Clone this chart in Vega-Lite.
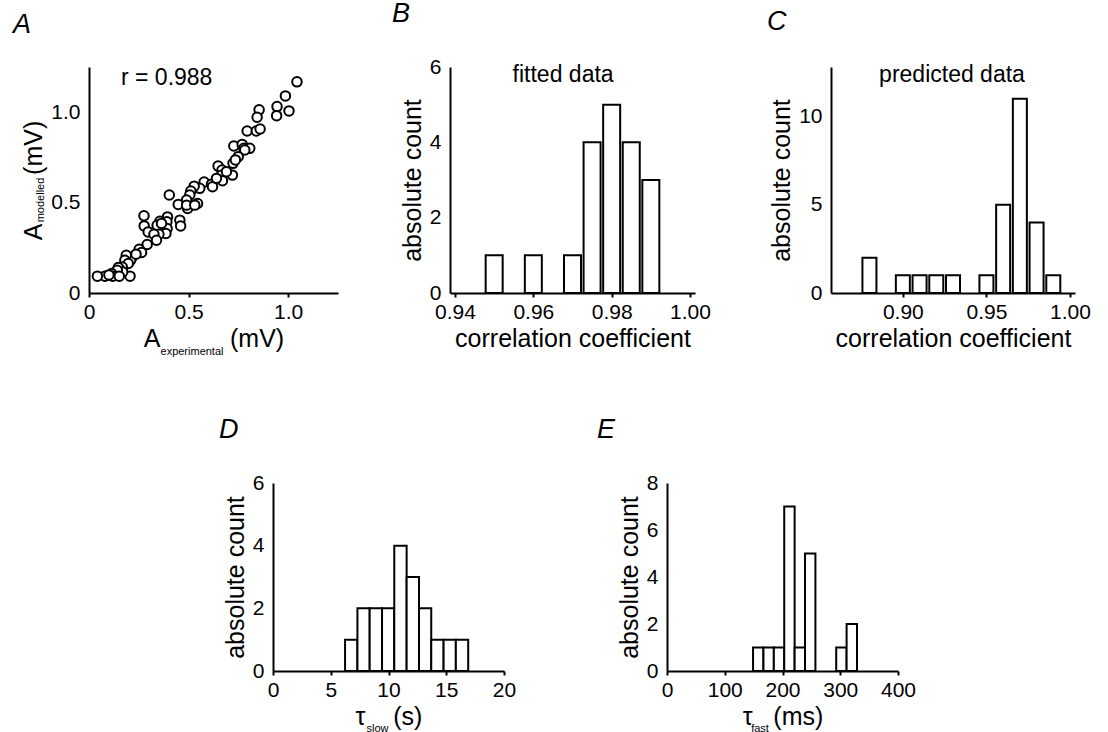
{
  "$schema": "https://vega.github.io/schema/vega-lite/v6.json",
  "background": "white",
  "padding": {"left": 13, "top": 0, "right": 0, "bottom": 0},
  "config": {
    "view": {"stroke": null},
    "font": "Liberation Sans",
    "axis": {"domainColor": "black", "domainWidth": 2, "tickColor": "black", "tickWidth": 2, "tickSize": 4, "labelFontSize": 21, "labelColor": "black", "titleFontSize": 25, "titleFontWeight": "normal", "titleColor": "black", "grid": false, "labelFont": "Liberation Sans", "titleFont": "Liberation Sans", "labelPadding": 4, "titlePadding": 4, "labelFlush": false},
    "axisY": {"ticks": false, "labelPadding": 9},
    "title": {"fontSize": 27, "fontStyle": "italic", "fontWeight": "normal", "anchor": "start", "frame": "group", "color": "black", "font": "Liberation Sans", "offset": 28}
  },
  "vconcat": [
    {
      "hconcat": [
        {
          "hconcat": [
            {
              "width": 249, "height": 226,
              "title": {"text": "A", "dx": -76},
              "layer": [
                {
                  "data": {"values": [
                    {"exp":1.044,"mod":1.168},{"exp":0.986,"mod":1.090},{"exp":0.944,"mod":1.031},{"exp":0.942,"mod":0.981},{"exp":1.004,"mod":1.007},
                    {"exp":0.854,"mod":1.013},{"exp":0.844,"mod":0.972},{"exp":0.794,"mod":0.896},{"exp":0.840,"mod":0.896},{"exp":0.859,"mod":0.907},
                    {"exp":0.727,"mod":0.813},{"exp":0.769,"mod":0.822},{"exp":0.777,"mod":0.800},{"exp":0.807,"mod":0.800},{"exp":0.782,"mod":0.791},
                    {"exp":0.749,"mod":0.754},{"exp":0.723,"mod":0.717},{"exp":0.648,"mod":0.702},{"exp":0.668,"mod":0.680},{"exp":0.665,"mod":0.652},
                    {"exp":0.720,"mod":0.652},{"exp":0.670,"mod":0.621},{"exp":0.578,"mod":0.614},{"exp":0.615,"mod":0.602},{"exp":0.620,"mod":0.588},
                    {"exp":0.556,"mod":0.579},{"exp":0.528,"mod":0.591},{"exp":0.511,"mod":0.564},{"exp":0.506,"mod":0.542},{"exp":0.490,"mod":0.514},
                    {"exp":0.448,"mod":0.490},{"exp":0.403,"mod":0.542},{"exp":0.495,"mod":0.468},{"exp":0.545,"mod":0.495},{"exp":0.490,"mod":0.486},
                    {"exp":0.456,"mod":0.403},{"exp":0.460,"mod":0.371},{"exp":0.394,"mod":0.421},{"exp":0.391,"mod":0.394},{"exp":0.356,"mod":0.397},
                    {"exp":0.342,"mod":0.375},{"exp":0.392,"mod":0.357},{"exp":0.386,"mod":0.329},{"exp":0.351,"mod":0.325},{"exp":0.276,"mod":0.427},
                    {"exp":0.277,"mod":0.371},{"exp":0.297,"mod":0.338},{"exp":0.326,"mod":0.325},{"exp":0.339,"mod":0.292},{"exp":0.292,"mod":0.268},
                    {"exp":0.252,"mod":0.242},{"exp":0.264,"mod":0.224},{"exp":0.214,"mod":0.196},{"exp":0.209,"mod":0.181},{"exp":0.187,"mod":0.209},
                    {"exp":0.180,"mod":0.181},{"exp":0.197,"mod":0.163},{"exp":0.167,"mod":0.144},{"exp":0.155,"mod":0.130},{"exp":0.147,"mod":0.141},
                    {"exp":0.139,"mod":0.116},{"exp":0.130,"mod":0.108},{"exp":0.122,"mod":0.098},{"exp":0.080,"mod":0.093},{"exp":0.042,"mod":0.093},
                    {"exp":0.206,"mod":0.093},{"exp":0.169,"mod":0.116},{"exp":0.142,"mod":0.126},{"exp":0.114,"mod":0.108},{"exp":0.119,"mod":0.093},
                    {"exp":0.152,"mod":0.093},{"exp":0.236,"mod":0.215},{"exp":0.364,"mod":0.385},{"exp":0.640,"mod":0.634},{"exp":0.690,"mod":0.671},
                    {"exp":0.735,"mod":0.736},{"exp":0.531,"mod":0.486},{"exp":0.100,"mod":0.100}
                  ]},
                  "mark": {"type": "point", "shape": "circle", "filled": true, "fill": "white", "stroke": "black", "strokeWidth": 2, "size": 90, "opacity": 1},
                  "encoding": {
                    "x": {"field": "exp", "type": "quantitative", "scale": {"domain": [0, 1.25], "nice": false, "zero": false},
                          "axis": {"values": [0, 0.5, 1], "labelExpr": "datum.value == 0 ? '0' : format(datum.value, '.1f')", "title": "A\u00a0\u00a0\u00a0\u00a0\u00a0\u00a0\u00a0\u00a0\u00a0\u00a0(mV)"}},
                    "y": {"field": "mod", "type": "quantitative", "scale": {"domain": [0, 1.25], "nice": false, "zero": false},
                          "axis": {"values": [0, 0.5, 1], "labelExpr": "datum.value == 0 ? '0' : format(datum.value, '.1f')", "title": "A\u00a0\u00a0\u00a0\u00a0\u00a0\u00a0\u00a0(mV)"}}
                  }
                },
                {
                  "data": {"values": [{}]},
                  "mark": {"type": "text", "fontSize": 23, "align": "center", "baseline": "middle", "color": "black"},
                  "encoding": {"x": {"datum": 0.39}, "y": {"datum": 1.19}, "text": {"value": "r = 0.988"}}
                },
                {
                  "data": {"values": [{}]},
                  "mark": {"type": "text", "fontSize": 11, "align": "left", "baseline": "alphabetic", "color": "black"},
                  "encoding": {"x": {"datum": 0.359}, "y": {"datum": -0.344}, "text": {"value": "experimental"}}
                },
                {
                  "data": {"values": [{}]},
                  "mark": {"type": "text", "fontSize": 11, "align": "left", "baseline": "alphabetic", "angle": 270, "color": "black"},
                  "encoding": {"x": {"datum": -0.225}, "y": {"datum": 0.391}, "text": {"value": "modelled"}}
                }
              ]
            },
            {
              "width": 245, "height": 226,
              "title": {"text": "B", "dx": -58},
              "layer": [
                {
                  "data": {"values": [
                    {"r": 0.95, "count": 1}, {"r": 0.96, "count": 1}, {"r": 0.97, "count": 1}, {"r": 0.975, "count": 4},
                    {"r": 0.98, "count": 5}, {"r": 0.985, "count": 4}, {"r": 0.99, "count": 3}
                  ]},
                  "mark": {"type": "bar", "width": 17, "fill": "white", "stroke": "black", "strokeWidth": 2, "orient": "vertical"},
                  "encoding": {
                    "x": {"field": "r", "type": "quantitative", "scale": {"domain": [0.94, 1.0], "nice": false, "zero": false},
                          "axis": {"values": [0.94, 0.96, 0.98, 1.0], "format": ".2f", "title": "correlation coefficient"}},
                    "y": {"field": "count", "type": "quantitative", "stack": null, "scale": {"domain": [0, 6], "nice": false},
                          "axis": {"values": [0, 2, 4, 6], "title": "absolute count"}}
                  }
                },
                {
                  "data": {"values": [{}]},
                  "mark": {"type": "text", "fontSize": 23, "align": "center", "baseline": "middle", "color": "black"},
                  "encoding": {"x": {"datum": 0.9676}, "y": {"datum": 5.78}, "text": {"value": "fitted data"}}
                }
              ]
            }
          ],
          "spacing": 54
        },
        {
          "width": 244, "height": 226,
          "title": {"text": "C", "dx": -64},
          "layer": [
            {
              "data": {"values": [
                {"r": 0.88, "count": 2}, {"r": 0.90, "count": 1}, {"r": 0.91, "count": 1}, {"r": 0.92, "count": 1}, {"r": 0.93, "count": 1},
                {"r": 0.95, "count": 1}, {"r": 0.96, "count": 5}, {"r": 0.97, "count": 11}, {"r": 0.98, "count": 4}, {"r": 0.99, "count": 1}
              ]},
              "mark": {"type": "bar", "width": 14, "fill": "white", "stroke": "black", "strokeWidth": 2, "orient": "vertical"},
              "encoding": {
                "x": {"field": "r", "type": "quantitative", "scale": {"domain": [0.86, 1.0], "nice": false, "zero": false},
                      "axis": {"values": [0.9, 0.95, 1.0], "format": ".2f", "title": "correlation coefficient"}},
                "y": {"field": "count", "type": "quantitative", "stack": null, "scale": {"domain": [0, 12.8], "nice": false},
                      "axis": {"values": [0, 5, 10], "title": "absolute count"}}
              }
            },
            {
              "data": {"values": [{}]},
              "mark": {"type": "text", "fontSize": 23, "align": "center", "baseline": "middle", "color": "black"},
              "encoding": {"x": {"datum": 0.9294}, "y": {"datum": 12.35}, "text": {"value": "predicted data"}}
            }
          ]
        }
      ],
      "spacing": 56
    },
    {
      "hconcat": [
        {
          "width": 130, "height": 10,
          "data": {"values": [{}]},
          "mark": {"type": "point", "opacity": 0},
          "encoding": {}
        },
        {
          "hconcat": [
            {
              "width": 231, "height": 188,
              "title": {"text": "D", "dx": -54},
              "layer": [
                {
                  "data": {"values": [
                    {"start": 6.24, "end": 7.31, "count": 1}, {"start": 7.31, "end": 8.37, "count": 2}, {"start": 8.37, "end": 9.44, "count": 2},
                    {"start": 9.44, "end": 10.5, "count": 2}, {"start": 10.5, "end": 11.57, "count": 4}, {"start": 11.57, "end": 12.64, "count": 3},
                    {"start": 12.64, "end": 13.7, "count": 2}, {"start": 13.7, "end": 14.77, "count": 1}, {"start": 14.77, "end": 15.83, "count": 1},
                    {"start": 15.83, "end": 16.9, "count": 1}
                  ]},
                  "mark": {"type": "rect", "fill": "white", "stroke": "black", "strokeWidth": 2},
                  "encoding": {
                    "x": {"field": "start", "type": "quantitative", "scale": {"domain": [0, 20], "nice": false},
                          "axis": {"values": [0, 5, 10, 15, 20], "title": "τ\u00a0\u00a0\u00a0\u00a0(s)"}},
                    "x2": {"field": "end"},
                    "y": {"field": "count", "type": "quantitative", "stack": null, "scale": {"domain": [0, 6], "nice": false},
                          "axis": {"values": [0, 2, 4, 6], "title": "absolute count"}},
                    "y2": {"datum": 0}
                  }
                },
                {
                  "data": {"values": [{}]},
                  "mark": {"type": "text", "fontSize": 11, "align": "left", "baseline": "alphabetic", "color": "black"},
                  "encoding": {"x": {"datum": 8.1}, "y": {"datum": -1.94}, "text": {"value": "slow"}}
                }
              ]
            },
            {
              "width": 231, "height": 188,
              "title": {"text": "E", "dx": -70},
              "layer": [
                {
                  "data": {"values": [
                    {"start": 149, "end": 167, "count": 1}, {"start": 167, "end": 185, "count": 1}, {"start": 185, "end": 203, "count": 1},
                    {"start": 203, "end": 221, "count": 7}, {"start": 221, "end": 239, "count": 1}, {"start": 239, "end": 257, "count": 5},
                    {"start": 293, "end": 311, "count": 1}, {"start": 311, "end": 329, "count": 2}
                  ]},
                  "mark": {"type": "rect", "fill": "white", "stroke": "black", "strokeWidth": 2},
                  "encoding": {
                    "x": {"field": "start", "type": "quantitative", "scale": {"domain": [0, 400], "nice": false},
                          "axis": {"values": [0, 100, 200, 300, 400], "title": "τ\u00a0\u00a0\u00a0(ms)"}},
                    "x2": {"field": "end"},
                    "y": {"field": "count", "type": "quantitative", "stack": null, "scale": {"domain": [0, 8], "nice": false},
                          "axis": {"values": [0, 2, 4, 6, 8], "title": "absolute count"}},
                    "y2": {"datum": 0}
                  }
                },
                {
                  "data": {"values": [{}]},
                  "mark": {"type": "text", "fontSize": 11, "align": "left", "baseline": "alphabetic", "color": "black"},
                  "encoding": {"x": {"datum": 145.8}, "y": {"datum": -2.58}, "text": {"value": "fast"}}
                }
              ]
            }
          ],
          "spacing": 81
        }
      ],
      "spacing": 0
    }
  ],
  "spacing": 58
}
